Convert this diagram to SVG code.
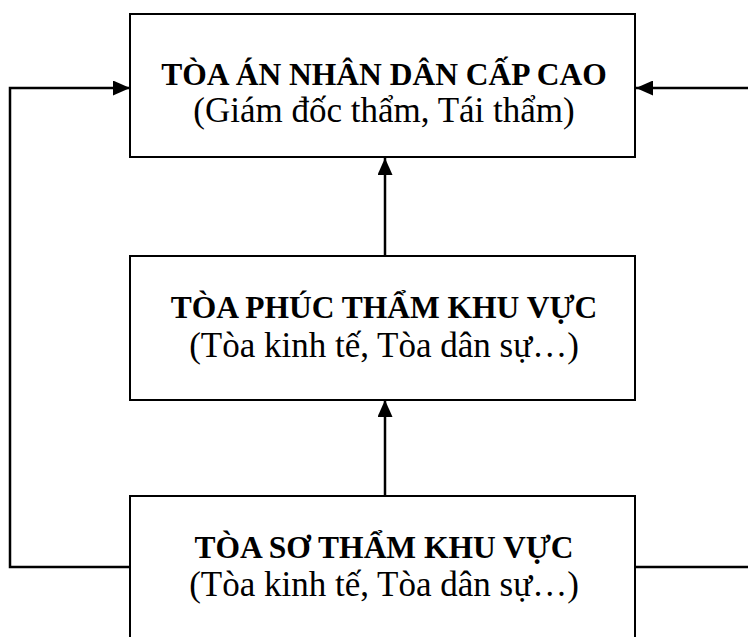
<svg xmlns="http://www.w3.org/2000/svg" width="748" height="637" viewBox="0 0 748 637">
  <style>
    .box { fill: #ffffff; stroke: #000000; stroke-width: 2; }
    .link { fill: none; stroke: #000000; stroke-width: 2.5; }
    .title { font-family: "Liberation Serif", "Times New Roman", serif; font-weight: bold; font-size: 31.5px; fill: #000000; text-anchor: middle; }
    .sub { font-family: "Liberation Serif", "Times New Roman", serif; font-size: 35px; fill: #000000; text-anchor: middle; }
  </style>
  <defs>
    <marker id="arrow" markerUnits="userSpaceOnUse" markerWidth="17" markerHeight="15" refX="17" refY="7.5" orient="auto">
      <path d="M0,0 L17,7.5 L0,15 z" fill="#000000"/>
    </marker>
  </defs>

  <rect width="748" height="637" fill="#ffffff"/>

  <!-- connectors -->
  <g id="connectors">
    <path class="link" d="M385,256 L385,158" marker-end="url(#arrow)"/>
    <path class="link" d="M385,496 L385,400" marker-end="url(#arrow)"/>
    <path class="link" d="M130,567 L10,567 L10,88 L130,88" marker-end="url(#arrow)"/>
    <path class="link" d="M748,88 L636,88" marker-end="url(#arrow)"/>
    <path class="link" d="M635,567 L748,567"/>
  </g>

  <!-- supreme level -->
  <g id="node-cap-cao">
    <rect class="box" x="130" y="14" width="505" height="143"/>
    <text class="title" x="384" y="85">TÒA ÁN NHÂN DÂN CẤP CAO</text>
    <text class="sub" x="384" y="122">(Giám đốc thẩm, Tái thẩm)</text>
  </g>

  <!-- appellate level -->
  <g id="node-phuc-tham">
    <rect class="box" x="130" y="256" width="505" height="144"/>
    <text class="title" x="384" y="318">TÒA PHÚC THẨM KHU VỰC</text>
    <text class="sub" x="384" y="357">(Tòa kinh tế, Tòa dân sự…)</text>
  </g>

  <!-- first-instance level -->
  <g id="node-so-tham">
    <rect class="box" x="130" y="496" width="505" height="150"/>
    <text class="title" x="384" y="558">TÒA SƠ THẨM KHU VỰC</text>
    <text class="sub" x="384" y="596">(Tòa kinh tế, Tòa dân sự…)</text>
  </g>
</svg>
